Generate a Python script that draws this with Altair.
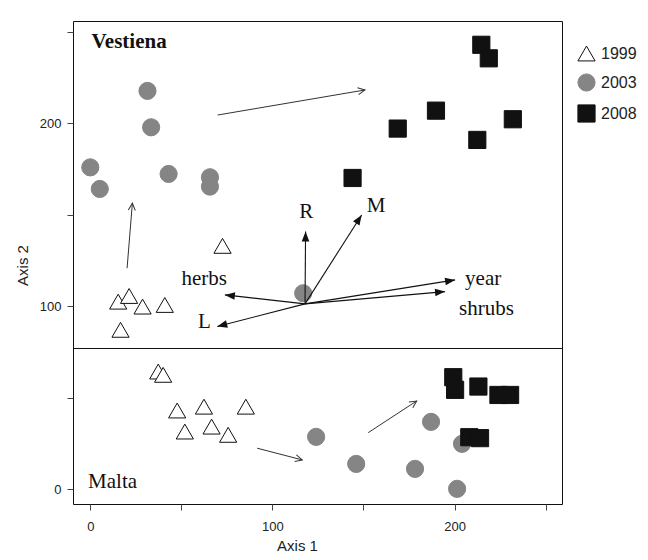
import math
import altair as alt
import pandas as pd

# ---- sample scores ----
years = ["1999", "2003", "2008"]

v1999_x = [72.6, 15.3, 21.3, 28.7, 40.9, 16.6]
v1999_y = [133.1, 102.6, 105.7, 99.9, 100.8, 87.2]
v2003_x = [31.4, 33.4, 0.0, 5.2, 43.0, 65.7, 65.7, 116.9]
v2003_y = [217.8, 197.9, 176.0, 164.2, 172.4, 170.6, 165.5, 107.2]
v2008_x = [214.7, 218.8, 189.8, 168.8, 232.0, 212.5, 144.0]
v2008_y = [243.0, 235.6, 207.0, 197.2, 202.3, 191.0, 170.2]

m1999_x = [37.3, 40.0, 47.7, 62.4, 85.4, 51.9, 66.6, 75.7]
m1999_y = [64.4, 62.6, 43.1, 45.2, 45.2, 31.6, 34.3, 29.8]
m2003_x = [124.0, 146.0, 178.3, 187.1, 201.4, 204.1]
m2003_y = [28.7, 13.9, 11.2, 36.9, 0.3, 24.9]
m2008_x = [199.3, 200.3, 213.1, 224.1, 230.5, 208.1, 214.0]
m2008_y = [61.3, 54.4, 56.2, 51.6, 51.6, 28.5, 28.0]

# ---- environmental biplot arrows ----
origin = (117.9, 101.4)
bi_vars = ["R", "M", "year", "shrubs", "herbs", "L"]
bi_head_x = [118.2, 149.0, 200.3, 194.8, 73.9, 69.7]
bi_head_y = [140.9, 150.0, 114.5, 108.1, 106.3, 89.0]
bi_lab_x = [114.7, 151.8, 205.8, 202.5, 50.1, 59.2]
bi_lab_y = [148.2, 151.8, 111.7, 95.4, 111.7, 88.4]

# ---- time trend arrows ----
tr_tail_x = [20.2, 69.9, 91.6, 152.6]
tr_tail_y = [120.9, 204.6, 22.5, 31.0]
tr_head_x = [23.1, 150.8, 116.4, 179.2]
tr_head_y = [156.4, 218.3, 16.1, 48.3]

# ---- panel labels / divider ----
panel_names = ["Vestiena", "Malta"]
panel_x = [0.7, -1.2]
panel_y = [241.1, 1.0]
divider_y = [77.0]

tick_vals = [0, 50, 100, 150, 200, 250]

# ---- styling ----
shapes = ["triangle-up", "circle", "square"]
fills = ["#ffffff", "#858585", "#111111"]
strokes = ["#111111", "#858585", "#111111"]

W, H = 489, 483
XD = [-9.5, 259.0]
YD = [-8.0, 256.0]
kx = W / (XD[1] - XD[0])
ky = H / (YD[1] - YD[0])

rows = []
for xs_, ys_, yr in [(v1999_x, v1999_y, "1999"), (v2003_x, v2003_y, "2003"),
                     (v2008_x, v2008_y, "2008"), (m1999_x, m1999_y, "1999"),
                     (m2003_x, m2003_y, "2003"), (m2008_x, m2008_y, "2008")]:
    for a, b in zip(xs_, ys_):
        rows.append({"x": a, "y": b, "year": yr})
pts = pd.DataFrame(rows)


def screen_angle(x0, y0, x1, y1):
    dx = (x1 - x0) * kx
    dy = (y1 - y0) * ky
    return math.degrees(math.atan2(dx, dy)) % 360


bi = pd.DataFrame({
    "var": bi_vars,
    "x0": [origin[0]] * len(bi_vars),
    "y0": [origin[1]] * len(bi_vars),
    "x1": bi_head_x,
    "y1": bi_head_y,
    "lx": bi_lab_x,
    "ly": bi_lab_y,
})
bi["ang"] = [screen_angle(a, b, c, d) for a, b, c, d in zip(bi.x0, bi.y0, bi.x1, bi.y1)]

tr = pd.DataFrame({"x0": tr_tail_x, "y0": tr_tail_y, "x1": tr_head_x, "y1": tr_head_y})
tr["ang"] = [screen_angle(a, b, c, d) for a, b, c, d in zip(tr.x0, tr.y0, tr.x1, tr.y1)]

panels = pd.DataFrame({"name": panel_names, "x": panel_x, "y": panel_y})
div = pd.DataFrame({"y": divider_y})

lab_expr = "datum.value % 100 === 0 ? datum.label : ''"


def xenc(field="x"):
    return alt.X(f"{field}:Q",
                 scale=alt.Scale(domain=XD, nice=False, zero=False),
                 axis=alt.Axis(values=tick_vals, labelExpr=lab_expr, title="Axis 1",
                               labelPadding=10, titleX=224, titleY=46,
                               titleAlign="center", titleBaseline="alphabetic"))


def yenc(field="y"):
    return alt.Y(f"{field}:Q",
                 scale=alt.Scale(domain=YD, nice=False, zero=False),
                 axis=alt.Axis(values=tick_vals, labelExpr=lab_expr, title="Axis 2",
                               labelPadding=6, titleX=-51, titleY=244, titleAngle=270,
                               titleAlign="center", titleBaseline="middle"))


leg = alt.Legend(title=None, orient="none", legendX=504, legendY=23,
                 symbolSize=295, symbolStrokeWidth=1, labelFont="Liberation Sans",
                 labelFontSize=16, labelColor="#222222", labelOffset=5,
                 rowPadding=8, padding=0)

points = alt.Chart(pts).mark_point(filled=True, opacity=1, strokeWidth=1, size=295).encode(
    x=xenc(), y=yenc(),
    shape=alt.Shape("year:N", scale=alt.Scale(domain=years, range=shapes), legend=leg),
    fill=alt.Fill("year:N", scale=alt.Scale(domain=years, range=fills), legend=leg),
    stroke=alt.Stroke("year:N", scale=alt.Scale(domain=years, range=strokes), legend=leg),
)

divider = alt.Chart(div).mark_rule(color="#111111", strokeWidth=1).encode(y=yenc("y"))

tr_rules = alt.Chart(tr).mark_rule(color="#333333", strokeWidth=1).encode(
    x=xenc("x0"), y=yenc("y0"), x2="x1:Q", y2="y1:Q")
tr_heads = alt.Chart(tr).mark_point(shape="M-0.5,1L0,0L0.5,1", filled=False, stroke="#333333",
                                    strokeWidth=1, size=196, opacity=1).encode(
    x=xenc("x1"), y=yenc("y1"), angle=alt.Angle("ang:Q", scale=None))

bi_rules = alt.Chart(bi).mark_rule(color="#111111", strokeWidth=1.1).encode(
    x=xenc("x0"), y=yenc("y0"), x2="x1:Q", y2="y1:Q")
bi_heads = alt.Chart(bi).mark_point(shape="M0,0L-0.38,1L0.38,1Z", filled=True, fill="#111111",
                                    size=400, opacity=1).encode(
    x=xenc("x1"), y=yenc("y1"), angle=alt.Angle("ang:Q", scale=None))
bi_labels = alt.Chart(bi).mark_text(font="Liberation Serif", fontSize=21, align="left",
                                    baseline="alphabetic", color="#111111").encode(
    x=xenc("lx"), y=yenc("ly"), text="var:N")

vest = alt.Chart(panels[panels.name == "Vestiena"]).mark_text(
    font="Liberation Serif", fontSize=21, fontWeight="bold", align="left",
    baseline="alphabetic", color="#111111").encode(x=xenc(), y=yenc(), text="name:N")
malta = alt.Chart(panels[panels.name == "Malta"]).mark_text(
    font="Liberation Serif", fontSize=21, align="left",
    baseline="alphabetic", color="#111111").encode(x=xenc(), y=yenc(), text="name:N")

chart = alt.layer(points, divider, tr_rules, tr_heads, bi_rules, bi_heads, bi_labels, vest, malta).properties(
    width=W, height=H,
    padding={"left": 65, "top": 13, "right": 78, "bottom": 48},
    autosize=alt.AutoSizeParams(type="none"),
).configure_view(stroke="#111111", strokeWidth=1).configure_axis(
    grid=False, domain=False, tickSize=6, tickColor="#444444", tickWidth=1,
    labelFont="Liberation Sans", labelFontSize=13, labelColor="#222222",
    titleFont="Liberation Sans", titleFontSize=15, titleFontWeight="normal", titleColor="#222222",
)

chart.save("out.html", embed_options={"renderer": "svg", "actions": False})
